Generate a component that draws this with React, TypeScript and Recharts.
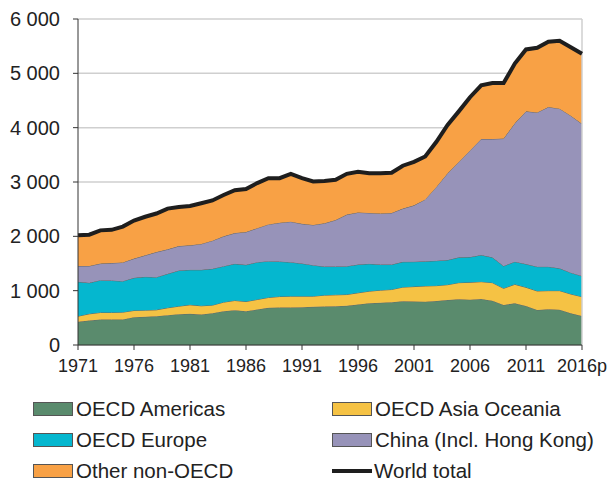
import { ComposedChart, Area, Line, XAxis, YAxis, CartesianGrid, ReferenceLine } from 'recharts'

// CO2 emissions from coal by region, Mt
const years = [
  1971, 1972, 1973, 1974, 1975, 1976, 1977, 1978, 1979, 1980,
  1981, 1982, 1983, 1984, 1985, 1986, 1987, 1988, 1989, 1990,
  1991, 1992, 1993, 1994, 1995, 1996, 1997, 1998, 1999, 2000,
  2001, 2002, 2003, 2004, 2005, 2006, 2007, 2008, 2009, 2010,
  2011, 2012, 2013, 2014, 2015, 2016,
]
const oecdAmericas = [
  426, 451, 469, 469, 469, 512, 518, 530, 549, 567,
  573, 561, 585, 622, 641, 622, 653, 684, 690, 690,
  696, 702, 708, 714, 721, 745, 769, 776, 788, 805,
  800, 797, 810, 828, 841, 834, 846, 815, 736, 767,
  718, 644, 657, 650, 583, 534,
]
const oecdAsiaOceania = [
  104, 122, 129, 129, 135, 123, 123, 117, 135, 147,
  166, 160, 148, 166, 178, 178, 184, 190, 202, 208,
  202, 196, 209, 209, 208, 215, 221, 233, 233, 260,
  275, 289, 282, 282, 306, 319, 319, 332, 307, 349,
  343, 350, 343, 350, 355, 355,
]
const oecdEurope = [
  633, 571, 595, 589, 571, 601, 614, 601, 626, 657,
  644, 662, 669, 662, 675, 675, 687, 669, 644, 626,
  602, 571, 527, 521, 521, 521, 504, 472, 460, 465,
  458, 454, 459, 454, 466, 466, 491, 466, 411, 417,
  429, 447, 441, 411, 393, 381,
]
const china = [
  290, 310, 305, 320, 345, 354, 395, 462, 450, 449,
  452, 477, 518, 550, 566, 605, 626, 677, 714, 746,
  730, 741, 796, 856, 950, 959, 936, 939, 949, 980,
  1037, 1140, 1359, 1596, 1757, 1961, 2134, 2177, 2346, 2547,
  2810, 2839, 2939, 2939, 2889, 2800,
]
const otherNonOecd = [
  567, 576, 612, 613, 660, 700, 710, 710, 750, 720,
  725, 750, 740, 760, 790, 790, 830, 850, 820, 880,
  840, 800, 780, 740, 750, 750, 730, 740, 740, 790,
  800, 790, 830, 890, 930, 980, 990, 1030, 1020, 1100,
  1140, 1190, 1200, 1250, 1260, 1290,
]
const worldTotal = [
  2020, 2030, 2110, 2120, 2180, 2290, 2360, 2420, 2510, 2540,
  2560, 2610, 2660, 2760, 2850, 2870, 2980, 3070, 3070, 3150,
  3070, 3010, 3020, 3040, 3150, 3190, 3160, 3160, 3170, 3300,
  3370, 3470, 3740, 4050, 4300, 4560, 4780, 4820, 4820, 5180,
  5440, 5470, 5580, 5600, 5480, 5360,
]
const yTicks = [0, 1000, 2000, 3000, 4000, 5000, 6000]

const series = [
  { key: 'americas', name: 'OECD Americas', color: '#5a8b6d' },
  { key: 'asia', name: 'OECD Asia Oceania', color: '#f5c244' },
  { key: 'europe', name: 'OECD Europe', color: '#05b7cf' },
  { key: 'china', name: 'China (Incl. Hong Kong)', color: '#9793b9' },
  { key: 'other', name: 'Other non-OECD', color: '#f8a145' },
]

const data = years.map((y, i) => ({
  year: y,
  americas: oecdAmericas[i],
  asia: oecdAsiaOceania[i],
  europe: oecdEurope[i],
  china: china[i],
  other: otherNonOecd[i],
  total: worldTotal[i],
}))

const fmtY = (v: number) =>
  v >= 1000 ? `${Math.floor(v / 1000)} ${String(v % 1000).padStart(3, '0')}` : String(v)
const fmtX = (v: number) => (v === 2016 ? '2016p' : String(v))

const font = 'Liberation Sans, Arial, sans-serif'

const legendRows = [
  [series[0], series[1]],
  [series[2], series[3]],
  [series[4], null],
]

export default function App() {
  return (
    <div style={{ position: 'absolute', left: 0, top: 0, width: 608, height: 484, background: '#fff', fontFamily: font }}>
      <ComposedChart width={608} height={384} data={data} margin={{ top: 19, right: 26, left: 0, bottom: 0 }}>
        <CartesianGrid vertical={false} stroke="#cfcfcf" strokeWidth={1.5} />
        <ReferenceLine x={2016} stroke="#cfcfcf" strokeWidth={1.5} />
        {series.map((s) => (
          <Area
            key={s.key}
            type="linear"
            dataKey={s.key}
            stackId="a"
            fill={s.color}
            fillOpacity={1}
            stroke="#666"
            strokeWidth={1}
            isAnimationActive={false}
          />
        ))}
        <Line
          type="linear"
          dataKey="total"
          stroke="#1e1e1e"
          strokeWidth={4}
          dot={false}
          isAnimationActive={false}
        />
        <XAxis
          dataKey="year"
          interval={4}
          tickFormatter={fmtX}
          height={39}
          tickSize={5}
          tickMargin={9}
          stroke="#333"
          tick={{ fill: '#222', fontSize: 18, fontFamily: font }}
        />
        <YAxis
          width={78}
          domain={[0, 6000]}
          ticks={yTicks}
          tickFormatter={fmtY}
          tickSize={5}
          tickMargin={13}
          stroke="#333"
          tick={{ fill: '#222', fontSize: 20, fontFamily: font }}
        />
      </ComposedChart>
      {legendRows.map((row, r) =>
        row.map((s, c) => {
          const top = 399 + r * 31
          const left = c === 0 ? 33 : 332
          if (!s) {
            return (
              <div key={`w${r}`} style={{ position: 'absolute', top, left, height: 20, display: 'flex', alignItems: 'center' }}>
                <div style={{ width: 40, height: 4, background: '#1e1e1e' }} />
                <span style={{ marginLeft: 2, fontSize: 20.5, color: '#222' }}>World total</span>
              </div>
            )
          }
          return (
            <div key={s.key} style={{ position: 'absolute', top, left, height: 20, display: 'flex', alignItems: 'center' }}>
              <div style={{ width: 38, height: 12, background: s.color, border: '1px solid #555' }} />
              <span style={{ marginLeft: 3, fontSize: 20.5, color: '#222' }}>{s.name}</span>
            </div>
          )
        })
      )}
    </div>
  )
}
